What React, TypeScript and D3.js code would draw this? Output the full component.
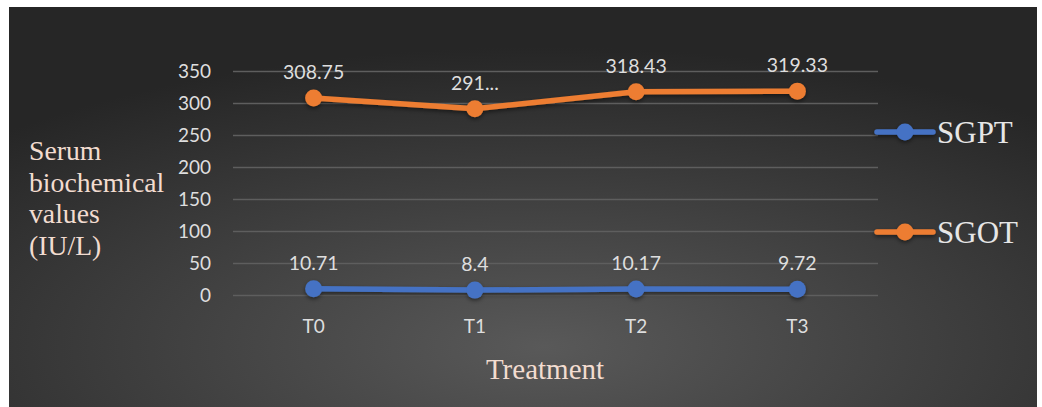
import React, { useEffect, useRef } from 'react';
import * as d3 from 'd3';

const categories = ['T0', 'T1', 'T2', 'T3'];
const sgptValues = [10.71, 8.4, 10.17, 9.72];
const sgotValues = [308.75, 291.8, 318.43, 319.33];
const sgotLabels = ['308.75', '291...', '318.43', '319.33'];
const sgptLabels = ['10.71', '8.4', '10.17', '9.72'];
const yTicks = [0, 50, 100, 150, 200, 250, 300, 350];
const yTitleLines = ['Serum', 'biochemical', 'values', '(IU/L)'];

const W = 1042;
const H = 407;

export default function App() {
  const ref = useRef<SVGSVGElement>(null);

  useEffect(() => {
    const svg = d3.select(ref.current);
    svg.selectAll('*').remove();

    const defs = svg.append('defs');
    const grad = defs.append('radialGradient')
      .attr('id', 'bg')
      .attr('cx', '52%').attr('cy', '85%').attr('r', '75%')
      .attr('fx', '52%').attr('fy', '85%');
    grad.append('stop').attr('offset', '0%').attr('stop-color', '#595959');
    grad.append('stop').attr('offset', '100%').attr('stop-color', '#262626');

    const shadow = defs.append('filter').attr('id', 'sh')
      .attr('x', '-20%').attr('y', '-50%').attr('width', '140%').attr('height', '200%');
    shadow.append('feDropShadow')
      .attr('dx', 0).attr('dy', 2).attr('stdDeviation', 2)
      .attr('flood-color', '#000').attr('flood-opacity', 0.5);

    svg.append('rect').attr('width', W).attr('height', H).attr('fill', '#fff');
    svg.append('rect')
      .attr('x', 9).attr('y', 7).attr('width', 1028).attr('height', 400)
      .attr('fill', 'url(#bg)');

    const x = d3.scalePoint<string>().domain(categories).range([233, 878]).padding(0.5);
    const y = d3.scaleLinear().domain([0, 350]).range([295.5, 71.5]);

    // gridlines
    svg.append('g').selectAll('line').data(yTicks).enter().append('line')
      .attr('x1', 233).attr('x2', 878)
      .attr('y1', d => y(d)).attr('y2', d => y(d))
      .attr('stroke', '#5e5e5e').attr('stroke-width', 1.3);

    svg.append('g').selectAll('text').data(yTicks).enter().append('text')
      .attr('x', 211).attr('y', d => y(d) + 6.5)
      .attr('text-anchor', 'end')
      .attr('font-family', 'Lato, sans-serif').attr('font-size', 19)
      .attr('fill', '#dedede')
      .text(d => d);

    svg.append('g').selectAll('text').data(categories).enter().append('text')
      .attr('x', d => x(d)!).attr('y', 333)
      .attr('text-anchor', 'middle')
      .attr('font-family', 'Lato, sans-serif').attr('font-size', 19)
      .attr('fill', '#dedede')
      .text(d => d);

    // axis titles
    svg.append('text')
      .attr('x', 545).attr('y', 379)
      .attr('text-anchor', 'middle')
      .attr('font-family', '"Liberation Serif", "Times New Roman", serif')
      .attr('font-size', 29).attr('fill', '#f2dcd0')
      .text('Treatment');

    svg.append('g').selectAll('text').data(yTitleLines).enter().append('text')
      .attr('x', 29).attr('y', (d, i) => 160 + i * 31.7)
      .attr('font-family', '"Liberation Serif", "Times New Roman", serif')
      .attr('font-size', 27.7).attr('fill', '#f2dcd0')
      .text(d => d);

    const series = [
      { name: 'SGPT', values: sgptValues, labels: sgptLabels, color: '#4472c4', legendY: 132 },
      { name: 'SGOT', values: sgotValues, labels: sgotLabels, color: '#ed7d31', legendY: 232 },
    ];

    const line = d3.line<number>()
      .x((d, i) => x(categories[i])!)
      .y(d => y(d));

    series.forEach(s => {
      const g = svg.append('g').attr('filter', 'url(#sh)');
      g.append('path')
        .attr('d', line(s.values))
        .attr('fill', 'none')
        .attr('stroke', s.color).attr('stroke-width', 5.5)
        .attr('stroke-linejoin', 'round').attr('stroke-linecap', 'round');
      g.selectAll('circle').data(s.values).enter().append('circle')
        .attr('cx', (d, i) => x(categories[i])!)
        .attr('cy', d => y(d))
        .attr('r', 8.5)
        .attr('fill', s.color);

      svg.append('g').selectAll('text').data(s.values).enter().append('text')
        .attr('x', (d, i) => x(categories[i])!)
        .attr('y', d => y(d) - 19)
        .attr('text-anchor', 'middle')
        .attr('font-family', 'Lato, sans-serif').attr('font-size', 19.5)
        .attr('fill', '#dedede')
        .text((d, i) => s.labels[i]);

      // legend
      const lg = svg.append('g');
      const lg2 = lg.append('g').attr('filter', 'url(#sh)');
      lg2.append('line')
        .attr('x1', 877).attr('x2', 933)
        .attr('y1', s.legendY).attr('y2', s.legendY)
        .attr('stroke', s.color).attr('stroke-width', 5.5)
        .attr('stroke-linecap', 'round');
      lg2.append('circle')
        .attr('cx', 905).attr('cy', s.legendY).attr('r', 8.5)
        .attr('fill', s.color);
      lg.append('text')
        .attr('x', 937).attr('y', s.legendY + 10.5)
        .attr('font-family', '"Liberation Serif", "Times New Roman", serif')
        .attr('font-size', 31).attr('fill', '#e6e6e6')
        .text(s.name);
    });
  }, []);

  return (
    <svg
      ref={ref}
      width={W}
      height={H}
      style={{ position: 'absolute', left: 0, top: 0, display: 'block' }}
    />
  );
}
